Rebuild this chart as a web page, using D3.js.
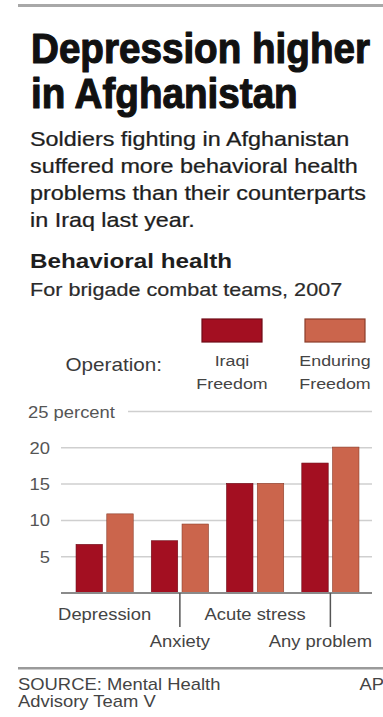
<!DOCTYPE html>
<html>
<head>
<meta charset="utf-8">
<script src="https://cdn.jsdelivr.net/npm/d3@7"></script>
<style>
  body { margin: 0; background: #fff; }
  svg { display: block; font-family: "Liberation Sans", Arial, sans-serif; }
</style>
</head>
<body>
<div id="chart"></div>
<script>
// data
const categories = ["Depression", "Anxiety", "Acute stress", "Any problem"];
const seriesNames = ["Iraqi Freedom", "Enduring Freedom"];
const iraqiFreedom = [6.7, 7.2, 15.1, 17.9];
const enduringFreedom = [10.9, 9.5, 15.1, 20.1];
const yTicks = [5, 10, 15, 20, 25];

const titleLines = ["Depression higher", "in Afghanistan"];
const introLines = [
    "Soldiers fighting in Afghanistan",
    "suffered more behavioral health",
    "problems than their counterparts",
    "in Iraq last year."
];

const width = 383;
const height = 717;
const SX = 1.15; // the original art is a bit stretched sideways
const colors = ["#a30f21", "#cb654c"];
const strokes = ["#6e0a16", "#8a3d2a"];

const svg = d3.select("#chart")
    .append("svg")
    .attr("width", width)
    .attr("height", height);

// put a text at x,y with a horizontal stretch
function label(g, s, x, y, size, opts = {}) {
    const t = g.append("text")
        .datum({x: x, y: y})
        .attr("transform", `translate(${x},${y}) scale(${opts.sx || SX},1)`)
        .attr("text-anchor", opts.anchor || "start")
        .attr("font-size", size)
        .attr("font-weight", opts.bold ? "bold" : null)
        .attr("fill", opts.fill || "#333")
        .text(s);
    if (opts.family) t.style("font-family", opts.family);
    if (opts.stroke) t.attr("stroke", opts.fill).attr("stroke-width", opts.stroke).attr("stroke-linejoin", "round");
    return t;
}

// squeeze or stretch a block of lines so the widest one fills w
function fit(sel, w) {
    let max = 0;
    sel.each(function() { max = Math.max(max, this.getComputedTextLength()); });
    const sx = w / max;
    sel.attr("transform", d => `translate(${d.x},${d.y}) scale(${sx},1)`);
}

// rules
svg.append("rect").attr("x", 18).attr("y", 4).attr("width", width - 18).attr("height", 3).attr("fill", "#a8a8a8");
svg.append("rect").attr("x", 18).attr("y", 667).attr("width", width - 18).attr("height", 2.5).attr("fill", "#9a9a9a");

// headline
const head = svg.append("g");
titleLines.forEach((s, i) => {
    label(head, s, 31, 63 + i * 45, 43, {bold: true, fill: "#111", stroke: 1.2,
        family: "'Liberation Sans Narrow', 'Liberation Sans', Arial, sans-serif"});
});
fit(head.selectAll("text"), 339);

const intro = svg.append("g");
introLines.forEach((s, i) => {
    label(intro, s, 30, 146 + i * 27, 19.5, {fill: "#1e1e1e", stroke: 0.25});
});
fit(intro.selectAll("text"), 336);

const h2 = svg.append("g");
label(h2, "Behavioral health", 30, 268, 19.5, {bold: true, fill: "#1e1e1e"});
fit(h2.selectAll("text"), 202);
const h3 = svg.append("g");
label(h3, "For brigade combat teams, 2007", 30, 296, 18.5, {fill: "#2a2a2a", stroke: 0.2});
fit(h3.selectAll("text"), 312);

// legend
const legend = svg.append("g");
label(legend, "Operation:", 162, 371, 18, {anchor: "end", fill: "#3a3a3a"});
const legendX = [232, 335];
seriesNames.forEach((name, i) => {
    legend.append("rect")
        .attr("x", legendX[i] - 30)
        .attr("y", 319)
        .attr("width", 60)
        .attr("height", 23)
        .attr("fill", colors[i])
        .attr("stroke", strokes[i])
        .attr("stroke-width", 1.2);
    const words = name.split(" ");
    label(legend, words[0], legendX[i], 366, 15.5, {anchor: "middle", fill: "#444"});
    label(legend, words[1], legendX[i], 389, 15.5, {anchor: "middle", fill: "#444"});
});

// chart
const y = d3.scaleLinear().domain([0, 25]).range([593, 411.5]);
const x0 = d3.scaleBand().domain(categories).range([67, 368]).paddingInner(0.24).paddingOuter(0.12);
const x1 = d3.scaleBand().domain(seriesNames).range([0, x0.bandwidth()]).paddingInner(0.14);

const grid = svg.append("g");
grid.selectAll("line")
    .data(yTicks)
    .join("line")
    .attr("x1", d => d === 25 ? 128 : 61)
    .attr("x2", 372)
    .attr("y1", d => y(d))
    .attr("y2", d => y(d))
    .attr("stroke", "#cfcfcf")
    .attr("stroke-width", 1.5);

yTicks.forEach(d => {
    label(grid, d === 25 ? "25 percent" : String(d), d === 25 ? 28 : 50, y(d) + 6, 16,
        {anchor: d === 25 ? "start" : "end", fill: "#555"});
});

const rows = categories.map((c, i) => ({cat: c, values: [iraqiFreedom[i], enduringFreedom[i]]}));

svg.append("g")
    .selectAll("g")
    .data(rows)
    .join("g")
    .attr("transform", d => `translate(${x0(d.cat)},0)`)
    .selectAll("rect")
    .data(d => d.values.map((v, i) => ({key: seriesNames[i], value: v, i: i})))
    .join("rect")
    .attr("x", d => x1(d.key))
    .attr("y", d => y(d.value))
    .attr("width", x1.bandwidth())
    .attr("height", d => y(0) - y(d.value))
    .attr("fill", d => colors[d.i])
    .attr("stroke", d => strokes[d.i])
    .attr("stroke-width", 0.6);

// baseline
svg.append("line")
    .attr("x1", 61).attr("x2", 372)
    .attr("y1", y(0)).attr("y2", y(0))
    .attr("stroke", "#8a8a8a")
    .attr("stroke-width", 2);

// staggered category labels
const xAxis = svg.append("g");
categories.forEach((c, i) => {
    const cx = x0(c) + x0.bandwidth() / 2;
    const low = i % 2 === 1;
    if (low) {
        xAxis.append("line")
            .attr("x1", cx).attr("x2", cx)
            .attr("y1", y(0)).attr("y2", 627)
            .attr("stroke", "#555")
            .attr("stroke-width", 1.5);
    }
    const t = label(xAxis, c, cx, low ? 647 : 620, 16, {anchor: "middle", fill: "#444"});
    const w = t.node().getComputedTextLength() * SX;
    if (cx + w / 2 > 372) {
        t.attr("transform", `translate(${372 - w / 2},${low ? 647 : 620}) scale(${SX},1)`);
    }
});

// source line
const foot = svg.append("g");
label(foot, "SOURCE: Mental Health", 18, 690, 16, {fill: "#444"});
label(foot, "Advisory Team V", 18, 707, 16, {fill: "#444"});
label(foot, "AP", 384, 690, 16, {anchor: "end", fill: "#444"});
</script>
</body>
</html>
